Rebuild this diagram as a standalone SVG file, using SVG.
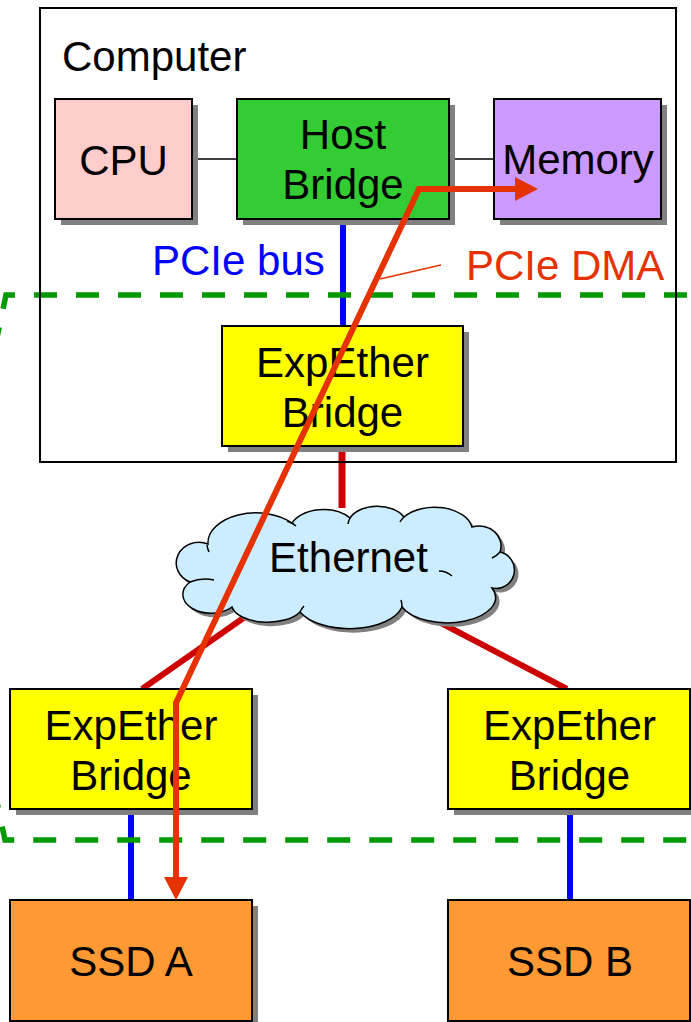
<svg xmlns="http://www.w3.org/2000/svg" width="691" height="1022" viewBox="0 0 691 1022">
<style>
text{font-family:"Liberation Sans",Arial,sans-serif;font-size:42px;fill:#000}
.box{stroke:#000;stroke-width:2}
.shadow{fill:#808080}
.lbl{text-anchor:middle}
.bd{fill:none;stroke:#009900;stroke-width:5.5;stroke-dasharray:23 19}
</style>
<defs>
<marker id="ah" markerUnits="userSpaceOnUse" markerWidth="23" markerHeight="24" viewBox="0 0 23 24" refX="2" refY="12" orient="auto-start-reverse">
<path d="M0,0 L23,12 L0,24 Z" fill="#E63200"/>
</marker>
</defs>
<rect width="691" height="1022" fill="#fff"/>

<g id="connectors" fill="none">
<line x1="192" y1="159" x2="237" y2="159" stroke="#000" stroke-width="1.5"/>
<line x1="449" y1="159" x2="494" y2="159" stroke="#000" stroke-width="1.5"/>
<line x1="343" y1="220" x2="343" y2="326" stroke="#0000FF" stroke-width="6"/>
<line x1="342" y1="446" x2="342" y2="508" stroke="#CC0000" stroke-width="7"/>
<line x1="252" y1="612" x2="142" y2="689" stroke="#CC0000" stroke-width="6"/>
<line x1="418" y1="611" x2="567" y2="689" stroke="#CC0000" stroke-width="6"/>
<line x1="131" y1="809" x2="131" y2="900" stroke="#0000FF" stroke-width="6"/>
<line x1="570" y1="809" x2="570" y2="900" stroke="#0000FF" stroke-width="6"/>
</g>

<g id="expether-domain">
<path class="bd" d="M700,295 H6 L-12,380" stroke-dashoffset="29"/>
<path class="bd" d="M-12,760 L5,840 H700" stroke-dashoffset="16"/>
</g>

<g id="computer">
<rect x="40" y="8" width="636" height="454" fill="none" stroke="#000" stroke-width="2"/>
<text x="62" y="71">Computer</text>
</g>

<g id="cpu">
<rect class="shadow" x="61" y="105" width="137" height="120"/>
<rect class="box" x="55" y="99" width="137" height="120" fill="#FFCCCC"/>
<text class="lbl" x="123.5" y="175">CPU</text>
</g>

<g id="host-bridge">
<rect class="shadow" x="243" y="105" width="212" height="120"/>
<rect class="box" x="237" y="99" width="212" height="120" fill="#33CC33"/>
<text class="lbl" x="343" y="149">Host</text>
<text class="lbl" x="343" y="199">Bridge</text>
</g>

<g id="memory">
<rect class="shadow" x="500" y="105" width="167" height="120"/>
<rect class="box" x="494" y="99" width="167" height="120" fill="#CC99FF"/>
<text class="lbl" x="578" y="174">Memory</text>
</g>

<g id="pcie-bus-label">
<text x="152" y="275" style="fill:#0000FF">PCIe bus</text>
</g>

<g id="expether-host">
<rect class="shadow" x="228" y="332" width="241" height="120"/>
<rect class="box" x="222" y="326" width="241" height="120" fill="#FFFF00"/>
<text class="lbl" x="342.5" y="377">ExpEther</text>
<text class="lbl" x="342.5" y="427">Bridge</text>
</g>

<g id="ethernet">
<path transform="translate(4,4)" class="shadow" d="M190,582 A22 20 0 0 1 208,544 A48 30 0 0 1 292,523 A34 22 0 0 1 350,518 A30 20 0 0 1 404,517 A38 24 0 0 1 472,527 A22 20 0 0 1 500,552 A18 18 0 0 1 492,588 A46 24 0 0 1 402,607 A54 28 0 0 1 300,612 A36 18 0 0 1 232,607 A24 16 0 0 1 190,582 Z"/>
<path d="M190,582 A22 20 0 0 1 208,544 A48 30 0 0 1 292,523 A34 22 0 0 1 350,518 A30 20 0 0 1 404,517 A38 24 0 0 1 472,527 A22 20 0 0 1 500,552 A18 18 0 0 1 492,588 A46 24 0 0 1 402,607 A54 28 0 0 1 300,612 A36 18 0 0 1 232,607 A24 16 0 0 1 190,582 Z" fill="#CCECFF" stroke="#000" stroke-width="1.5"/>
<g fill="none" stroke="#000" stroke-width="1.5">
<path d="M207,545 A20 20 0 0 0 209,552"/>
<path d="M287,521 A30 20 0 0 1 296,526"/>
<path d="M350,518 A20 20 0 0 0 348,524"/>
<path d="M404,517 A20 20 0 0 0 400,522"/>
<path d="M500,552 A20 20 0 0 1 492,558"/>
<path d="M439,571 A20 20 0 0 1 452,576"/>
<path d="M402,607 A20 20 0 0 0 401,600"/>
<path d="M300,612 A20 20 0 0 1 304,606"/>
<path d="M190,582 A30 20 0 0 1 214,580"/>
</g>
<text class="lbl" x="348.5" y="572">Ethernet</text>
</g>

<g id="expether-a">
<rect class="shadow" x="16" y="695" width="242" height="120"/>
<rect class="box" x="10" y="689" width="242" height="120" fill="#FFFF00"/>
<text class="lbl" x="131" y="740">ExpEther</text>
<text class="lbl" x="131" y="790">Bridge</text>
</g>

<g id="expether-b">
<rect class="shadow" x="454" y="695" width="242" height="120"/>
<rect class="box" x="448" y="689" width="242" height="120" fill="#FFFF00"/>
<text class="lbl" x="569.5" y="740">ExpEther</text>
<text class="lbl" x="569.5" y="790">Bridge</text>
</g>

<g id="ssd-a">
<rect class="shadow" x="16" y="906" width="242" height="121"/>
<rect class="box" x="10" y="900" width="242" height="121" fill="#FF9933"/>
<text class="lbl" x="131" y="976">SSD A</text>
</g>

<g id="ssd-b">
<rect class="shadow" x="454" y="906" width="242" height="121"/>
<rect class="box" x="448" y="900" width="242" height="121" fill="#FF9933"/>
<text class="lbl" x="570" y="976">SSD B</text>
</g>

<g id="dma-flow">
<path d="M517,189 L419,189 L176,703 L176,879" fill="none" stroke="#E63200" stroke-width="6" marker-start="url(#ah)" marker-end="url(#ah)"/>
<line x1="441" y1="265" x2="380" y2="279" stroke="#E63200" stroke-width="1.5"/>
<text x="466" y="280" style="fill:#E63200">PCIe DMA</text>
</g>
</svg>
